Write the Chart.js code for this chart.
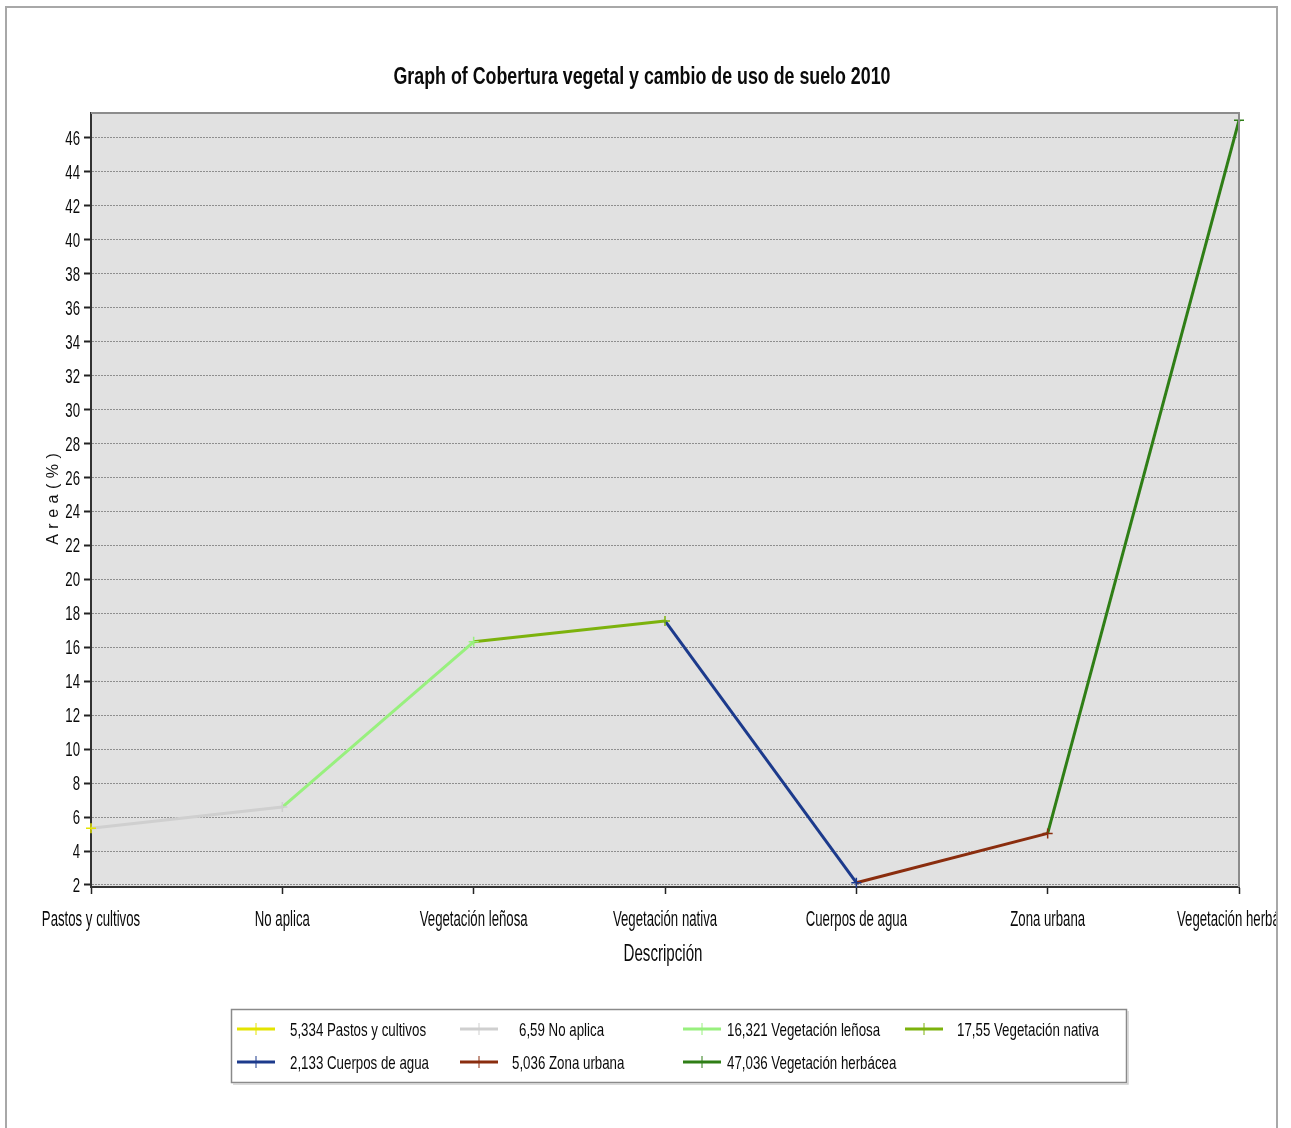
<!DOCTYPE html>
<html>
<head>
<meta charset="utf-8">
<script src="https://cdn.jsdelivr.net/npm/chart.js@4/dist/chart.umd.min.js"></script>
<style>
  html, body { margin: 0; padding: 0; background: #ffffff; }
  #wrap { width: 1291px; height: 1128px; position: relative; }
</style>
</head>
<body>
<div id="wrap"><canvas id="c"></canvas></div>
<script>
// Land-cover categories and their share of area (%)
const categories = ["Pastos y cultivos", "No aplica", "Vegetación leñosa", "Vegetación nativa",
                    "Cuerpos de agua", "Zona urbana", "Vegetación herbácea"];
const areaValues = [5.334, 6.59, 16.321, 17.55, 2.133, 5.036, 47.036];
const seriesColors = ["#e4e400", "#cfcfcf", "#98f07e", "#7cb20c", "#1c3a8c", "#8a2d0e", "#2f7e16"];
const yTicks = [2, 4, 6, 8, 10, 12, 14, 16, 18, 20, 22, 24, 26, 28, 30, 32, 34, 36, 38, 40, 42, 44, 46];

const titleText = "Graph of Cobertura vegetal y cambio de uso de suelo 2010";
const xTitle = "Descripción";
const yTitle = "Area(%)";

const FAMILY = '"Liberation Sans", Arial, sans-serif';

// Condensed text: regular face squeezed horizontally
function narrowText(ctx, text, x, y, size, sx, align, bold) {
  ctx.save();
  ctx.font = (bold ? 'bold ' : '') + size + 'px ' + FAMILY;
  ctx.textBaseline = 'alphabetic';
  ctx.textAlign = align;
  ctx.fillStyle = '#0a0a0a';
  ctx.translate(x, y);
  ctx.scale(sx, 1);
  ctx.fillText(text, 0, 0);
  ctx.restore();
}

// Frame, plot background, labels, titles and legend
const decor = {
  id: 'decor',
  beforeDraw(chart) {
    const { ctx, chartArea: a } = chart;
    ctx.save();
    ctx.fillStyle = '#e1e1e1';
    ctx.fillRect(a.left, a.top, a.right - a.left, a.bottom - a.top);
    ctx.restore();
  },
  afterDraw(chart) {
    const { ctx, chartArea: a } = chart;
    const xs = chart.scales.x, ys = chart.scales.y;
    ctx.save();
    // plot top and right edges
    ctx.strokeStyle = '#8c8c8c';
    ctx.lineWidth = 2;
    ctx.beginPath();
    ctx.moveTo(a.left, a.top); ctx.lineTo(a.right, a.top); ctx.lineTo(a.right, a.bottom);
    ctx.stroke();

    // category labels under the axis
    categories.forEach((name, i) => {
      narrowText(ctx, name, xs.getPixelForValue(i), 926, 22, 0.6, 'center', false);
    });
    // value labels beside the axis
    yTicks.forEach(v => {
      narrowText(ctx, String(v), a.left - 11, ys.getPixelForValue(v) + 7, 20, 0.66, 'right', false);
    });

    // clip anything past the outer frame
    ctx.fillStyle = '#ffffff';
    ctx.fillRect(1278, 0, 20, 1128);

    // outer frame
    ctx.strokeStyle = '#a8a8a8';
    ctx.lineWidth = 2;
    ctx.beginPath();
    ctx.moveTo(6, 1130); ctx.lineTo(6, 7); ctx.lineTo(1277, 7); ctx.lineTo(1277, 1130);
    ctx.stroke();

    // title, squeezed to its box width
    ctx.font = 'bold 23px ' + FAMILY;
    const tw = ctx.measureText(titleText).width;
    narrowText(ctx, titleText, 642, 84, 23, 497 / tw, 'center', true);

    // x-axis title
    narrowText(ctx, xTitle, 663, 961, 24, 0.63, 'center', false);

    // y-axis title, letter-spaced
    ctx.save();
    ctx.translate(54, 499);
    ctx.rotate(-Math.PI / 2);
    ctx.font = '16px ' + FAMILY;
    ctx.fillStyle = '#111111';
    ctx.textBaseline = 'middle';
    ctx.textAlign = 'left';
    const gap = 5.5;
    const chars = Array.from(yTitle);
    const total = chars.reduce((s, c) => s + ctx.measureText(c).width, 0) + gap * (chars.length - 1);
    let cx = -total / 2;
    chars.forEach(c => { ctx.fillText(c, cx, 0); cx += ctx.measureText(c).width + gap; });
    ctx.restore();

    // legend box
    const bx = 231, by = 1009, bw = 895, bh = 73;
    ctx.fillStyle = '#ffffff';
    ctx.fillRect(bx, by, bw, bh);
    ctx.strokeStyle = '#8a8a8a';
    ctx.lineWidth = 1.5;
    ctx.strokeRect(bx + 0.5, by + 0.5, bw, bh);
    ctx.strokeStyle = '#d0d0d0';
    ctx.beginPath();
    ctx.moveTo(bx + 2, by + bh + 2); ctx.lineTo(bx + bw + 2, by + bh + 2); ctx.lineTo(bx + bw + 2, by + 2);
    ctx.stroke();

    const colX = [237, 460, 683, 905];
    const textX = [290, 519, 727, 957];
    const rowY = [1029, 1062];
    categories.forEach((name, i) => {
      const col = i < 4 ? i : i - 4;
      const row = i < 4 ? 0 : 1;
      const sx = colX[col], sy = rowY[row];
      ctx.strokeStyle = seriesColors[i];
      ctx.lineWidth = 3;
      ctx.beginPath(); ctx.moveTo(sx, sy); ctx.lineTo(sx + 38, sy); ctx.stroke();
      ctx.lineWidth = 1;
      ctx.beginPath(); ctx.moveTo(sx + 19, sy - 6); ctx.lineTo(sx + 19, sy + 6); ctx.stroke();
      const tx = (row === 1 && col === 1) ? 512 : textX[col];
      const label = String(areaValues[i]).replace('.', ',') + ' ' + name;
      narrowText(ctx, label, tx, sy + 7, 19, 0.7, 'left', false);
    });
    ctx.restore();
  }
};

new Chart(document.getElementById('c'), {
  type: 'line',
  data: {
    labels: categories,
    datasets: [{
      data: areaValues,
      borderWidth: 3,
      tension: 0,
      fill: false,
      clip: false,
      segment: { borderColor: ctx => seriesColors[ctx.p1DataIndex] },
      borderColor: seriesColors[0],
      pointStyle: 'cross',
      pointRadius: 5,
      pointHoverRadius: 5,
      pointBorderWidth: 1.5,
      pointBorderColor: seriesColors,
      pointBackgroundColor: seriesColors
    }]
  },
  options: {
    responsive: true,
    maintainAspectRatio: false,
    animation: false,
    devicePixelRatio: 1,
    layout: { autoPadding: false, padding: { top: 113, left: 0, right: 52, bottom: 0 } },
    plugins: { legend: { display: false }, title: { display: false }, tooltip: { enabled: false } },
    scales: {
      x: {
        type: 'category',
        offset: false,
        afterFit(s) { s.height = 1128 - 887; s.paddingLeft = 0; s.paddingRight = 0; },
        grid: { drawOnChartArea: false, drawTicks: true, tickLength: 7, tickColor: '#222222', tickWidth: 1.5 },
        border: { color: '#333333', width: 2 },
        ticks: { display: false, autoSkip: false, maxRotation: 0 }
      },
      y: {
        min: 1.88,
        max: 47.47,
        afterFit(s) { s.width = 91; s.paddingTop = 0; s.paddingBottom = 0; },
        afterBuildTicks(s) { s.ticks = yTicks.map(v => ({ value: v })); },
        grid: { color: '#8e8e8e', lineWidth: 1, tickLength: 7, tickColor: '#222222', tickWidth: 2, tickBorderDash: [] },
        border: { color: '#333333', width: 2, dash: [2, 1] },
        ticks: { display: false }
      }
    }
  },
  plugins: [decor]
});
</script>
</body>
</html>
